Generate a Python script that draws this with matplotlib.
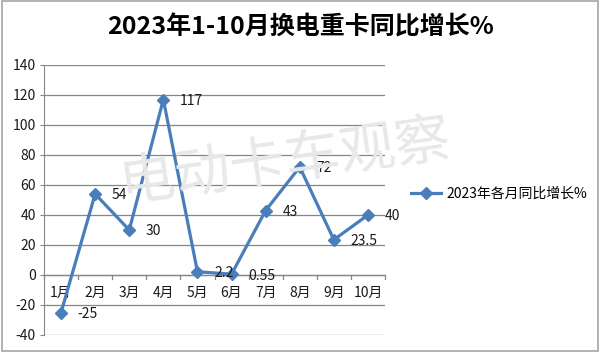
import matplotlib
matplotlib.use("Agg")
import matplotlib.pyplot as plt
import matplotlib.patches as mpatches

plt.rcParams['font.family'] = ['Noto Sans CJK SC', 'DejaVu Sans']

# data
months = ["1月", "2月", "3月", "4月", "5月", "6月", "7月", "8月", "9月", "10月"]
growth = [-25, 54, 30, 117, 2.2, 0.55, 43, 72, 23.5, 40]
labels = ["-25", "54", "30", "117", "2.2", "0.55", "43", "72", "23.5", "40"]
series_name = "2023年各月同比增长%"
title = "2023年1-10月换电重卡同比增长%"
y_ticks = list(range(-40, 141, 20))

blue = "#4a7ebb"
grid_col = "#868686"

fig = plt.figure(figsize=(6, 3.52), dpi=100)
fig.patches.append(mpatches.Rectangle((0.004, 0.004), 0.992, 0.992, transform=fig.transFigure,
                                      fill=False, edgecolor="#a6a6a6", linewidth=1.2))

ax = fig.add_axes([44 / 600, 1 - 335 / 352, (385 - 44) / 600, (335 - 65) / 352])

x = list(range(len(months)))
line, = ax.plot(x, growth, color=blue, linewidth=2.3, marker="D", markersize=6.5,
                markerfacecolor=blue, markeredgecolor=blue, zorder=5, label=series_name)

for xi, yi, lab in zip(x, growth, labels):
    ax.annotate(lab, (xi, yi), xytext=(12, -1), textcoords="offset points",
                ha="left", va="center", fontsize=10, color="#1a1a1a", zorder=6)

ax.set_xlim(-0.5, len(months) - 0.5)
ax.set_ylim(-40, 140)
ax.set_yticks(y_ticks)
ax.set_yticklabels([str(v) for v in y_ticks], fontsize=10, color="#1a1a1a")
ax.yaxis.grid(True, color=grid_col, linewidth=0.9)
ax.set_axisbelow(True)
ax.tick_params(axis="y", length=3, color=grid_col, pad=3)

# category axis sits at zero
ax.set_xticks([])
for s in ["top", "right", "bottom"]:
    ax.spines[s].set_visible(False)
ax.spines["left"].set_color(grid_col)
ax.axhline(0, color=grid_col, linewidth=0.9, zorder=2)
for b in range(len(months) + 1):
    ax.plot([b - 0.5, b - 0.5], [0, -2.5], color=grid_col, linewidth=0.9, clip_on=False, zorder=2)
for xi, m in zip(x, months):
    ax.text(xi, -12, m, ha="center", va="center", fontsize=10, color="#1a1a1a")

# watermark
fig.text(0.475, 0.54, "电动卡车观察", fontsize=40, color="#e8e8e8", rotation=8,
         ha="center", va="center", fontweight="light", zorder=0)

fig.text(0.5, 1 - 27 / 352, title, ha="center", va="center", fontsize=18, fontweight="bold",
         color="#000000")

fig.legend(handles=[line], loc="center left", bbox_to_anchor=(398 / 600, 1 - 194 / 352),
           frameon=False, fontsize=10, handlelength=2.2, handletextpad=0.4)

fig.savefig("out.png", dpi=100)
